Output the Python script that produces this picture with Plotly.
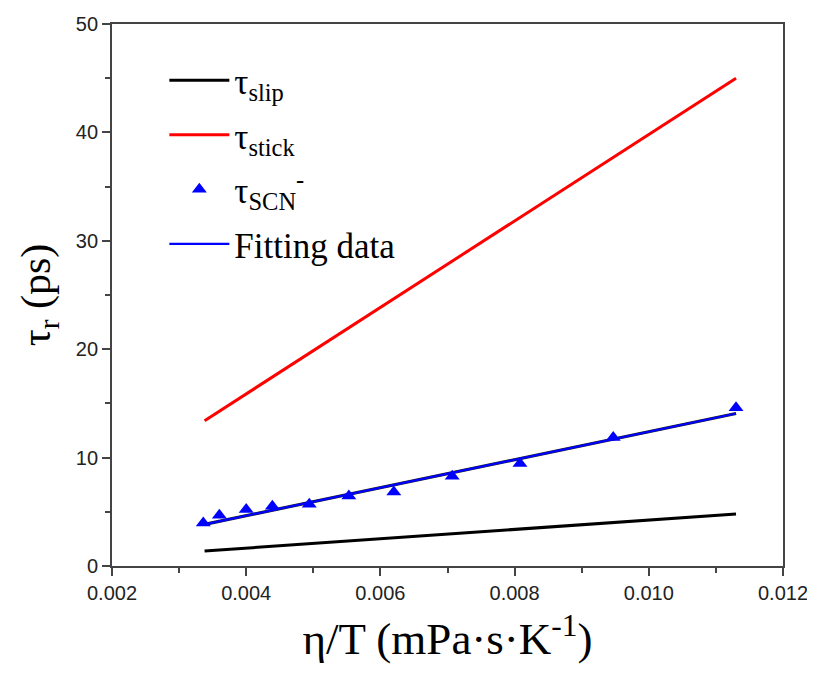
import plotly.graph_objects as go

# Data
x_line = [0.00338, 0.0113]
tau_slip = [1.38, 4.80]
tau_stick = [13.4, 45.0]

x_scn = [0.00336, 0.00360, 0.00400, 0.00439, 0.00494, 0.00553, 0.00620, 0.00707, 0.00808, 0.00947, 0.01130]
tau_scn = [3.97, 4.68, 5.21, 5.51, 5.70, 6.46, 6.83, 8.28, 9.45, 11.85, 14.6]

fit_x = [0.00338, 0.0113]
fit_y = [3.84, 14.07]

x_tickvals = [0.002, 0.004, 0.006, 0.008, 0.010, 0.012]
x_ticktext = ["0.002", "0.004", "0.006", "0.008", "0.010", "0.012"]
y_tickvals = [0, 10, 20, 30, 40, 50]

serif = "Liberation Serif, Times New Roman, serif"
legend_font = dict(family=serif, size=35, color="black")

fig = go.Figure()
fig.add_trace(go.Scatter(x=x_line, y=tau_slip, mode="lines", name="τ<sub>slip</sub>",
                         line=dict(color="black", width=3), legendgroup="a"))
fig.add_trace(go.Scatter(x=x_line, y=tau_stick, mode="lines", name="τ<sub>stick</sub>",
                         line=dict(color="#ff0000", width=3), legendgroup="b"))
fig.add_trace(go.Scatter(x=fit_x, y=fit_y, mode="lines", showlegend=False,
                         line=dict(color="#222222", width=3.2), hoverinfo="skip"))
fig.add_trace(go.Scatter(x=x_scn, y=tau_scn, mode="markers", name="τ<sub>SCN</sub><sup>-</sup>",
                         marker=dict(symbol="triangle-up", size=13, color="#0000ff"), legendgroup="c"))
fig.add_trace(go.Scatter(x=fit_x, y=fit_y, mode="lines", name="Fitting data",
                         line=dict(color="#0000ff", width=2.2), legendgroup="d"))

axis_common = dict(
    showline=True, linecolor="#444444", linewidth=1.8, mirror=True,
    ticks="outside", ticklen=8, tickwidth=1.8, tickcolor="#444444",
    showgrid=False, zeroline=False, automargin=False,
    tickfont=dict(family="Liberation Sans, Arial, sans-serif", size=20, color="#222222"),
)

fig.update_layout(
    width=807, height=666,
    paper_bgcolor="white", plot_bgcolor="white",
    margin=dict(l=104, r=32, t=16, b=108),
    xaxis=dict(range=[0.002, 0.012], tickvals=x_tickvals, ticktext=x_ticktext,
               minor=dict(ticks="outside", ticklen=5, tickwidth=1.8, tickcolor="#444444", dtick=0.001, tick0=0.002),
               title=dict(text="η/T (mPa·s·K<sup>-1</sup>)", standoff=20,
                          font=dict(family=serif, size=45, color="black")),
               **axis_common),
    yaxis=dict(range=[0, 50], tickvals=y_tickvals,
               minor=dict(ticks="outside", ticklen=5, tickwidth=1.8, tickcolor="#444444", dtick=5, tick0=0),
               title=dict(text="τ<sub>r</sub> (ps)", standoff=12,
                          font=dict(family=serif, size=42, color="black")),
               **axis_common),
    legend=dict(x=0.078, y=0.95, xanchor="left", yanchor="top", font=legend_font,
                bgcolor="rgba(0,0,0,0)", traceorder="grouped", tracegroupgap=6, itemwidth=60),
    showlegend=True,
)

fig.write_html("out.html")
